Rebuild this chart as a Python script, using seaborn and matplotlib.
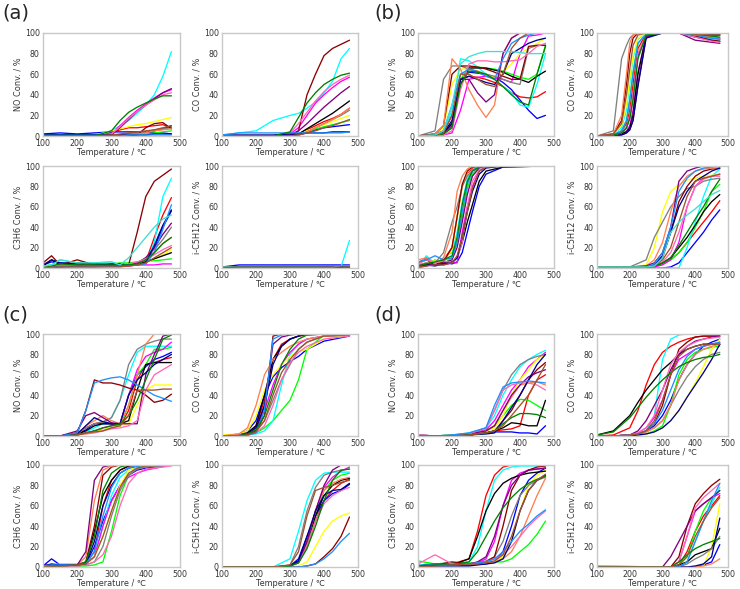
import matplotlib
matplotlib.use("Agg")
import matplotlib.pyplot as plt
import seaborn as sns
import pandas as pd

# ---------------- colours (one per catalyst, in order) ----------------
PALETTE = ["#ff0000", "#0000ff", "#00ff00", "#00ffff", "#ff00ff", "#ffff00",
           "#000000", "#808080", "#8b0000", "#ff7f50", "#800080", "#ff69b4",
           "#00008b", "#1e90ff", "#008000", "#a0522d", "#40e0d0"]

XTICKS = [100, 200, 300, 400, 500]
YTICKS = [0, 20, 40, 60, 80, 100]
XLABEL = "Temperature / \u2103"
YLABELS = ["NO Conv. / %", "CO Conv. / %", "C3H6 Conv. / %", "i-C5H12 Conv. / %"]
PANEL_LABELS = ["(a)", "(b)", "(c)", "(d)"]

# ---------------- panel (a) ----------------
A_T = [100, 150, 200, 250, 300, 325, 350, 375, 400, 425, 450, 475]
A_NO = [
    [2, 1, 0, 0, 3, 6, 8, 8, 9, 10, 11, 8],
    [2, 3, 2, 3, 4, 4, 4, 4, 4, 3, 3, 2],
    [1, 1, 1, 1, 1, 1, 2, 2, 2, 3, 4, 5],
    [1, 1, 1, 1, 5, 10, 15, 22, 30, 40, 58, 82],
    [0, 0, 0, 0, 2, 10, 18, 25, 31, 37, 42, 45],
    [0, 0, 0, 0, 5, 7, 9, 11, 12, 14, 16, 18],
    [0, 0, 0, 0, 1, 1, 2, 3, 4, 5, 7, 10],
    [0, 0, 0, 0, 1, 1, 2, 3, 4, 6, 7, 8],
    [0, 0, 0, 0, 0, 0, 0, 1, 8, 12, 13, 7],
    [0, 0, 0, 0, 0, 1, 1, 2, 3, 5, 6, 7],
    [0, 0, 0, 0, 1, 8, 16, 24, 30, 36, 42, 46],
    [0, 0, 0, 0, 2, 9, 17, 24, 30, 35, 40, 42],
    [1, 1, 1, 1, 1, 1, 1, 1, 1, 2, 2, 2],
    [0, 0, 0, 0, 0, 0, 1, 1, 1, 1, 1, 1],
    [0, 0, 0, 0, 5, 15, 23, 28, 32, 36, 39, 39],
    [0, 0, 0, 0, 1, 2, 3, 4, 5, 6, 8, 10],
]
A_CO = [
    [0, 0, 0, 0, 0, 2, 6, 10, 14, 17, 21, 27],
    [0, 0, 0, 0, 0, 1, 3, 6, 8, 9, 10, 11],
    [0, 0, 0, 0, 0, 2, 4, 7, 9, 11, 13, 15],
    [1, 3, 5, 15, 20, 22, 27, 33, 42, 53, 75, 85],
    [0, 0, 0, 0, 2, 8, 20, 32, 40, 47, 53, 57],
    [0, 0, 0, 0, 0, 2, 5, 8, 11, 14, 17, 20],
    [0, 0, 0, 0, 0, 2, 7, 12, 17, 22, 28, 34],
    [0, 0, 0, 0, 0, 1, 4, 8, 12, 16, 20, 25],
    [0, 0, 0, 0, 0, 5, 40, 60, 78, 85, 89, 93],
    [0, 0, 0, 0, 0, 1, 4, 8, 12, 16, 21, 27],
    [0, 0, 0, 0, 1, 5, 12, 20, 28, 35, 42, 48],
    [0, 0, 0, 0, 3, 12, 23, 34, 43, 50, 55, 59],
    [1, 1, 1, 1, 2, 2, 3, 3, 3, 4, 4, 4],
    [1, 3, 3, 3, 3, 3, 3, 3, 3, 3, 3, 4],
    [0, 0, 0, 0, 4, 18, 32, 42, 50, 55, 59, 61],
    [0, 0, 0, 0, 0, 1, 3, 5, 8, 10, 13, 16],
]
A_C3_T = [100, 125, 150, 200, 250, 300, 325, 350, 375, 400, 425, 450, 475]
A_C3H6 = [
    [1, 2, 1, 3, 2, 2, 2, 2, 3, 6, 30, 52, 69],
    [3, 6, 5, 4, 4, 3, 3, 3, 3, 5, 20, 40, 56],
    [2, 3, 2, 2, 3, 4, 5, 5, 6, 7, 7, 8, 9],
    [2, 3, 8, 5, 5, 6, 3, 3, 3, 5, 25, 70, 88],
    [0, 1, 2, 2, 2, 2, 2, 2, 3, 3, 3, 4, 4],
    [0, 1, 1, 2, 2, 2, 2, 3, 3, 5, 9, 13, 18],
    [2, 8, 3, 5, 3, 4, 4, 3, 4, 6, 9, 12, 15],
    [0, 1, 1, 1, 1, 2, 2, 3, 5, 10, 18, 28, 40],
    [5, 12, 3, 8, 3, 2, 2, 3, 35, 70, 85, 91, 97],
    [0, 2, 3, 4, 3, 2, 2, 3, 4, 8, 15, 24, 30],
    [0, 0, 1, 2, 2, 2, 2, 3, 5, 10, 20, 33, 44],
    [0, 1, 2, 3, 2, 2, 3, 4, 6, 9, 13, 18, 22],
    [3, 8, 5, 4, 4, 3, 3, 3, 3, 5, 22, 42, 57],
    [0, 1, 2, 2, 2, 2, 2, 3, 3, 4, 15, 38, 62],
    [0, 2, 4, 3, 3, 3, 3, 3, 4, 8, 15, 24, 30],
    [0, 1, 1, 1, 1, 1, 1, 2, 3, 5, 10, 15, 20],
    [2, 3, 8, 5, 5, 6, 3, 10, 20, 30, 40, 48, 52],
]
A_IC5 = [
    [0, 0, 0, 0, 0, 0, 0, 0, 0, 0, 1, 1],
    [1, 3, 3, 3, 3, 3, 3, 3, 3, 3, 3, 3],
    [1, 1, 1, 1, 1, 1, 1, 1, 1, 1, 1, 2],
    [1, 1, 1, 1, 1, 1, 1, 1, 1, 1, 1, 27],
    [0, 0, 0, 0, 0, 0, 0, 0, 1, 1, 1, 1],
    [0, 0, 0, 0, 0, 0, 0, 0, 0, 0, 0, 1],
    [0, 1, 1, 1, 1, 1, 1, 1, 1, 1, 1, 1],
    [1, 1, 1, 1, 1, 1, 1, 1, 1, 1, 2, 2],
]

# ---------------- panel (b) ----------------
B_NO_T = [100, 150, 175, 200, 225, 250, 275, 300, 325, 350, 375, 400, 425, 450, 475]
B_NO = [
    [0, 2, 5, 20, 55, 58, 57, 55, 52, 48, 42, 38, 37, 38, 43],
    [0, 1, 3, 12, 55, 62, 61, 60, 57, 52, 45, 35, 25, 17, 20],
    [0, 1, 2, 8, 55, 67, 67, 66, 65, 63, 60, 57, 55, 60, 88],
    [0, 1, 3, 25, 75, 73, 67, 60, 55, 48, 42, 30, 28, 50, 80],
    [0, 0, 1, 3, 25, 55, 57, 58, 56, 55, 52, 80, 97, 98, 100],
    [0, 2, 8, 50, 65, 65, 63, 60, 57, 62, 70, 80, 85, 90, 95],
    [0, 1, 3, 12, 50, 66, 66, 66, 64, 62, 58, 55, 52, 58, 63],
    [0, 5, 55, 68, 68, 65, 63, 60, 58, 55, 52, 50, 85, 88, 88],
    [0, 2, 10, 60, 68, 68, 67, 65, 62, 58, 55, 55, 87, 88, 88],
    [0, 2, 10, 75, 65, 45, 30, 18, 30, 80, 95, 100, 100, 100, 100],
    [0, 0, 2, 10, 55, 55, 42, 33, 40, 80, 95, 100, 100, 100, 100],
    [0, 0, 1, 5, 45, 70, 73, 73, 72, 72, 73, 74, 80, 87, 90],
    [0, 1, 3, 15, 55, 58, 55, 52, 50, 60, 80, 85, 90, 93, 95],
    [0, 1, 5, 30, 60, 65, 62, 58, 55, 75, 90, 95, 98, 100, 100],
    [0, 1, 2, 8, 50, 63, 62, 60, 55, 48, 40, 33, 30, 60, 87],
    [0, 1, 3, 20, 60, 60, 55, 50, 48, 60, 85, 95, 100, 100, 100],
    [0, 1, 5, 30, 70, 77, 80, 82, 82, 82, 82, 81, 80, 80, 80],
]
B_CO_T = [100, 150, 175, 190, 200, 210, 225, 250, 300, 350, 400, 450, 475]
B_CO = [
    [0, 1, 5, 12, 25, 50, 85, 99, 100, 100, 97, 95, 94],
    [0, 1, 3, 8, 18, 38, 78, 98, 100, 100, 96, 93, 92],
    [0, 1, 5, 15, 35, 62, 90, 99, 100, 100, 99, 98, 98],
    [0, 2, 8, 25, 50, 75, 94, 100, 100, 100, 97, 94, 93],
    [0, 0, 2, 5, 10, 25, 62, 97, 100, 100, 98, 96, 95],
    [0, 2, 10, 30, 55, 78, 95, 100, 100, 100, 100, 99, 99],
    [0, 0, 2, 4, 8, 20, 60, 97, 100, 100, 100, 99, 99],
    [0, 5, 75, 88, 95, 98, 100, 100, 100, 100, 99, 98, 98],
    [0, 2, 15, 50, 80, 95, 100, 100, 100, 100, 97, 93, 92],
    [0, 2, 20, 60, 90, 98, 100, 100, 100, 100, 98, 96, 95],
    [0, 0, 1, 3, 6, 15, 50, 96, 100, 100, 93, 91, 90],
    [0, 1, 3, 8, 20, 40, 80, 98, 100, 100, 96, 92, 91],
    [0, 0, 1, 3, 6, 15, 48, 95, 100, 100, 99, 98, 98],
    [0, 1, 5, 15, 35, 60, 90, 99, 100, 100, 98, 95, 94],
    [0, 1, 3, 8, 17, 35, 75, 98, 100, 100, 99, 97, 96],
    [0, 2, 12, 40, 65, 88, 98, 100, 100, 100, 99, 98, 98],
]
B_C3_T = [100, 125, 150, 175, 200, 215, 230, 245, 260, 280, 300, 350, 475]
B_C3H6 = [
    [5, 10, 5, 8, 20, 50, 80, 93, 98, 100, 100, 100, 100],
    [2, 5, 3, 6, 4, 6, 15, 35, 55, 80, 92, 99, 100],
    [3, 2, 8, 4, 10, 25, 50, 78, 92, 99, 100, 100, 100],
    [2, 12, 4, 10, 15, 35, 65, 87, 96, 100, 100, 100, 100],
    [0, 2, 4, 3, 5, 5, 35, 60, 80, 95, 99, 100, 100],
    [3, 5, 7, 5, 18, 50, 80, 94, 99, 100, 100, 100, 100],
    [2, 3, 5, 4, 6, 10, 25, 45, 62, 85, 95, 99, 100],
    [3, 5, 5, 15, 45, 60, 80, 90, 96, 99, 100, 100, 100],
    [5, 8, 3, 6, 20, 50, 82, 95, 99, 100, 100, 100, 100],
    [8, 10, 4, 10, 35, 75, 90, 97, 100, 100, 100, 100, 100],
    [2, 4, 3, 5, 8, 20, 45, 72, 90, 98, 100, 100, 100],
    [4, 8, 5, 7, 5, 10, 25, 60, 85, 96, 99, 100, 100],
    [1, 3, 2, 4, 5, 10, 30, 55, 75, 92, 98, 100, 100],
    [6, 8, 12, 8, 10, 25, 55, 82, 95, 99, 100, 100, 100],
    [2, 4, 6, 8, 12, 30, 62, 85, 95, 99, 100, 100, 100],
    [1, 2, 3, 3, 5, 12, 30, 55, 78, 95, 99, 100, 100],
]
B_IC5_T = [100, 200, 250, 275, 300, 325, 350, 375, 400, 425, 450, 475]
B_IC5 = [
    [1, 1, 1, 2, 4, 8, 15, 25, 35, 45, 55, 66],
    [1, 0, 0, 0, 0, 1, 5, 15, 25, 35, 47, 57],
    [1, 1, 1, 2, 4, 8, 15, 25, 40, 55, 75, 82],
    [1, 0, 0, 0, 0, 0, 0, 20, 45, 70, 90, 97],
    [1, 1, 1, 1, 3, 8, 25, 60, 80, 88, 90, 92],
    [1, 1, 3, 20, 55, 75, 82, 86, 88, 90, 91, 91],
    [1, 1, 1, 2, 5, 10, 20, 30, 42, 55, 65, 72],
    [1, 1, 8, 30, 45, 60, 70, 78, 80, 85, 87, 88],
    [1, 1, 1, 3, 10, 35, 65, 80, 90, 95, 97, 98],
    [1, 1, 2, 8, 25, 55, 80, 90, 95, 97, 98, 98],
    [1, 1, 2, 5, 15, 40, 85, 95, 98, 100, 100, 100],
    [1, 1, 1, 2, 6, 15, 35, 60, 80, 87, 90, 90],
    [1, 1, 1, 3, 12, 35, 60, 75, 85, 90, 95, 98],
    [1, 1, 1, 4, 15, 40, 75, 88, 95, 98, 99, 100],
    [1, 1, 1, 2, 5, 10, 22, 35, 48, 60, 75, 87],
    [1, 1, 1, 2, 8, 20, 45, 70, 85, 88, 90, 92],
    [1, 1, 1, 2, 10, 35, 45, 52, 58, 65, 72, 76],
]

# ---------------- panel (c) ----------------
C_NO_T = [100, 150, 200, 225, 250, 275, 300, 325, 350, 375, 400, 425, 450, 475]
C_NO = [
    [0, 0, 3, 8, 12, 14, 12, 10, 25, 55, 70, 72, 75, 77],
    [0, 0, 2, 6, 12, 12, 12, 12, 40, 60, 68, 75, 78, 82],
    [0, 0, 1, 3, 5, 6, 8, 10, 30, 60, 70, 85, 85, 87],
    [0, 0, 1, 4, 8, 12, 18, 35, 60, 82, 88, 88, 88, 88],
    [0, 0, 1, 3, 5, 8, 10, 12, 40, 65, 78, 82, 85, 92],
    [0, 0, 1, 2, 4, 6, 8, 10, 12, 30, 45, 50, 50, 50],
    [0, 0, 2, 5, 10, 12, 12, 12, 15, 45, 70, 72, 72, 72],
    [0, 0, 3, 8, 12, 14, 18, 35, 70, 85, 90, 93, 95, 95],
    [0, 0, 3, 25, 55, 52, 52, 50, 47, 45, 40, 33, 35, 41],
    [0, 0, 1, 10, 15, 20, 15, 12, 30, 60, 90, 100, 100, 100],
    [0, 0, 5, 20, 23, 18, 13, 12, 12, 12, 60, 80, 98, 100],
    [0, 0, 1, 2, 3, 5, 7, 8, 10, 15, 45, 60, 65, 70],
    [0, 0, 2, 10, 18, 14, 12, 12, 40, 55, 62, 70, 75, 80],
    [0, 0, 3, 25, 52, 55, 57, 58, 55, 50, 45, 40, 37, 34],
    [0, 0, 1, 3, 5, 8, 10, 12, 20, 35, 55, 75, 95, 99],
    [0, 0, 1, 3, 4, 5, 8, 10, 20, 45, 45, 45, 46, 46],
]
C_CO_T = [100, 150, 175, 200, 225, 250, 275, 300, 325, 350, 400, 475]
C_CO = [
    [0, 1, 3, 10, 35, 75, 90, 95, 98, 99, 100, 100],
    [0, 2, 5, 15, 40, 58, 67, 73, 78, 85, 93, 98],
    [0, 0, 1, 3, 8, 15, 25, 35, 55, 85, 99, 100],
    [0, 0, 1, 2, 5, 15, 50, 80, 90, 95, 98, 99],
    [0, 1, 2, 8, 25, 50, 70, 82, 90, 95, 98, 99],
    [1, 2, 5, 20, 45, 60, 70, 78, 83, 85, 95, 99],
    [0, 1, 3, 10, 40, 75, 88, 95, 98, 100, 100, 100],
    [0, 1, 2, 5, 15, 35, 55, 70, 85, 92, 98, 99],
    [0, 0, 1, 4, 20, 98, 100, 100, 100, 100, 100, 100],
    [0, 2, 8, 30, 60, 75, 82, 88, 92, 95, 98, 99],
    [0, 0, 1, 5, 30, 90, 97, 99, 100, 100, 100, 100],
    [0, 0, 1, 3, 10, 30, 55, 72, 82, 88, 95, 98],
    [0, 0, 2, 8, 30, 70, 88, 95, 98, 100, 100, 100],
    [0, 0, 1, 3, 25, 95, 99, 100, 100, 100, 100, 100],
    [0, 0, 2, 6, 20, 45, 70, 85, 95, 99, 100, 100],
    [0, 0, 1, 4, 15, 40, 62, 75, 85, 92, 98, 99],
]
C_C3_T = [100, 125, 150, 200, 225, 250, 275, 300, 325, 350, 375, 400, 475]
C_C3H6 = [
    [2, 1, 2, 2, 3, 15, 60, 85, 95, 99, 100, 100, 100],
    [1, 8, 2, 2, 3, 20, 45, 65, 80, 90, 95, 97, 100],
    [0, 2, 1, 1, 1, 2, 5, 35, 70, 90, 97, 99, 100],
    [1, 2, 3, 3, 4, 10, 40, 70, 88, 95, 98, 99, 100],
    [1, 1, 2, 2, 3, 10, 40, 65, 80, 88, 92, 95, 100],
    [0, 1, 1, 2, 3, 10, 30, 55, 80, 95, 99, 100, 100],
    [1, 2, 1, 2, 4, 35, 70, 85, 95, 99, 100, 100, 100],
    [0, 1, 1, 1, 2, 5, 20, 50, 75, 90, 96, 98, 100],
    [0, 1, 1, 2, 5, 40, 90, 98, 100, 100, 100, 100, 100],
    [1, 2, 1, 2, 10, 65, 95, 99, 100, 100, 100, 100, 100],
    [1, 1, 1, 2, 15, 85, 98, 100, 100, 100, 100, 100, 100],
    [0, 1, 1, 1, 2, 5, 12, 30, 60, 82, 92, 96, 99],
    [1, 3, 2, 2, 3, 25, 60, 80, 92, 97, 99, 100, 100],
    [1, 2, 2, 2, 3, 15, 50, 78, 92, 97, 99, 100, 100],
    [0, 1, 1, 2, 5, 30, 75, 92, 98, 100, 100, 100, 100],
    [0, 1, 1, 2, 3, 10, 30, 55, 78, 92, 97, 99, 100],
]
C_IC5_T = [100, 250, 300, 325, 350, 375, 400, 425, 450, 475]
C_IC5 = [
    [0, 0, 1, 5, 20, 45, 65, 75, 82, 86],
    [0, 0, 1, 8, 30, 50, 65, 72, 75, 81],
    [0, 0, 1, 4, 20, 50, 75, 85, 90, 92],
    [0, 0, 8, 35, 65, 85, 92, 93, 93, 93],
    [0, 0, 1, 5, 25, 55, 78, 88, 94, 98],
    [0, 0, 0, 1, 5, 20, 35, 45, 50, 53],
    [0, 0, 1, 6, 25, 50, 70, 80, 85, 87],
    [0, 0, 2, 20, 55, 78, 90, 93, 95, 96],
    [0, 0, 0, 0, 1, 3, 10, 18, 30, 49],
    [0, 0, 1, 5, 25, 55, 75, 82, 86, 88],
    [0, 0, 1, 5, 25, 55, 80, 95, 100, 100],
    [0, 0, 1, 4, 20, 45, 62, 70, 75, 78],
    [0, 0, 1, 6, 30, 55, 70, 75, 76, 82],
    [0, 0, 0, 0, 1, 3, 8, 15, 25, 33],
    [0, 0, 1, 4, 18, 40, 65, 85, 95, 96],
    [0, 0, 2, 15, 50, 75, 78, 80, 83, 85],
]

# ---------------- panel (d) ----------------
D_NO_T = [100, 150, 200, 250, 300, 325, 350, 375, 400, 425, 450, 475]
D_NO = [
    [1, 0, 0, 1, 3, 5, 6, 7, 10, 40, 55, 60],
    [0, 0, 0, 1, 3, 4, 4, 4, 3, 3, 2, 10],
    [1, 0, 1, 2, 5, 10, 20, 30, 36, 35, 30, 25],
    [1, 0, 1, 3, 8, 20, 40, 55, 68, 75, 80, 84],
    [1, 0, 0, 2, 6, 15, 30, 45, 55, 68, 75, 82],
    [0, 0, 1, 2, 5, 8, 20, 40, 55, 65, 75, 80],
    [0, 0, 0, 1, 3, 5, 8, 13, 12, 10, 10, 35],
    [0, 0, 1, 2, 8, 25, 45, 60, 70, 75, 78, 80],
    [0, 0, 0, 1, 3, 5, 15, 25, 40, 55, 65, 72],
    [0, 0, 0, 1, 5, 10, 25, 38, 50, 52, 53, 50],
    [0, 0, 0, 2, 5, 10, 25, 40, 50, 58, 62, 65],
    [1, 0, 0, 2, 8, 25, 45, 50, 52, 52, 50, 45],
    [0, 0, 0, 1, 2, 3, 15, 28, 40, 55, 70, 80],
    [0, 0, 1, 3, 8, 30, 48, 52, 53, 54, 53, 52],
    [0, 0, 0, 1, 3, 5, 12, 18, 22, 22, 21, 18],
    [0, 0, 0, 1, 3, 5, 10, 20, 30, 40, 55, 70],
]
D_CO_T = [100, 150, 200, 225, 250, 275, 300, 325, 350, 375, 400, 425, 450, 475]
D_CO = [
    [0, 1, 8, 25, 50, 70, 82, 88, 92, 95, 97, 98, 98, 98],
    [0, 0, 1, 2, 5, 10, 20, 35, 55, 70, 80, 88, 92, 95],
    [0, 0, 0, 1, 2, 5, 10, 30, 60, 75, 82, 85, 87, 88],
    [0, 0, 1, 2, 5, 20, 75, 95, 99, 100, 100, 100, 100, 100],
    [0, 0, 1, 3, 8, 18, 35, 60, 75, 80, 85, 88, 90, 92],
    [0, 0, 0, 1, 2, 4, 8, 15, 25, 38, 52, 68, 85, 95],
    [1, 5, 20, 33, 45, 55, 65, 72, 80, 85, 88, 90, 90, 90],
    [0, 0, 1, 2, 4, 8, 15, 30, 45, 58, 68, 75, 80, 82],
    [0, 0, 1, 2, 5, 12, 30, 60, 85, 92, 97, 98, 98, 98],
    [0, 0, 1, 2, 4, 8, 15, 30, 55, 70, 80, 85, 88, 90],
    [0, 0, 1, 5, 15, 30, 45, 65, 80, 88, 93, 95, 97, 98],
    [0, 0, 1, 3, 8, 20, 45, 70, 82, 88, 92, 95, 96, 97],
    [0, 0, 0, 1, 2, 4, 8, 15, 25, 38, 50, 62, 75, 90],
    [0, 0, 1, 2, 5, 12, 25, 45, 65, 78, 85, 88, 90, 92],
    [1, 4, 18, 28, 38, 47, 55, 62, 68, 72, 75, 77, 78, 80],
    [0, 0, 1, 2, 5, 15, 35, 60, 78, 85, 88, 90, 90, 90],
]
D_C3_T = [100, 150, 200, 250, 275, 300, 325, 350, 375, 400, 425, 450, 475]
D_C3H6 = [
    [2, 3, 3, 8, 35, 70, 90, 98, 100, 100, 100, 100, 100],
    [1, 2, 2, 2, 3, 3, 5, 15, 40, 70, 85, 92, 97],
    [6, 3, 4, 4, 4, 4, 5, 5, 8, 15, 22, 32, 45],
    [2, 3, 4, 5, 20, 55, 85, 95, 98, 99, 99, 99, 99],
    [1, 2, 2, 3, 4, 8, 25, 60, 85, 92, 95, 96, 97],
    [1, 2, 2, 3, 3, 4, 5, 10, 25, 55, 80, 90, 95],
    [1, 3, 2, 8, 30, 55, 72, 82, 87, 90, 92, 93, 94],
    [0, 2, 2, 3, 4, 6, 10, 25, 50, 70, 80, 85, 88],
    [0, 2, 5, 3, 4, 5, 10, 40, 75, 90, 95, 98, 99],
    [1, 2, 2, 3, 3, 4, 5, 8, 15, 30, 50, 70, 87],
    [0, 2, 3, 3, 5, 10, 30, 60, 80, 90, 95, 96, 97],
    [3, 12, 3, 3, 4, 5, 8, 12, 20, 30, 40, 48, 55],
    [0, 1, 1, 1, 2, 3, 4, 8, 25, 55, 75, 85, 90],
    [1, 3, 2, 3, 4, 5, 8, 15, 25, 35, 42, 50, 56],
    [1, 2, 2, 5, 15, 30, 45, 58, 68, 76, 82, 86, 89],
    [0, 1, 2, 3, 3, 4, 6, 12, 30, 55, 75, 85, 91],
]
D_IC5_T = [100, 300, 325, 350, 375, 400, 425, 450, 475]
D_IC5 = [
    [0, 0, 0, 2, 15, 35, 50, 60, 70],
    [0, 0, 0, 0, 0, 0, 2, 5, 22],
    [1, 0, 0, 2, 10, 35, 55, 68, 75],
    [1, 0, 0, 0, 5, 25, 45, 62, 78],
    [0, 0, 0, 5, 30, 55, 62, 68, 72],
    [0, 0, 0, 0, 0, 0, 1, 20, 62],
    [0, 0, 0, 2, 5, 12, 15, 18, 38],
    [0, 0, 0, 0, 3, 8, 12, 18, 30],
    [0, 0, 0, 10, 40, 62, 72, 80, 86],
    [0, 0, 0, 0, 0, 0, 1, 3, 8],
    [0, 0, 10, 25, 40, 55, 62, 68, 75],
    [0, 0, 0, 5, 30, 58, 68, 75, 82],
    [0, 0, 0, 0, 0, 1, 3, 10, 48],
    [0, 0, 0, 0, 5, 25, 45, 65, 82],
    [0, 0, 0, 5, 12, 18, 22, 25, 28],
    [0, 0, 0, 2, 10, 30, 45, 58, 68],
]

PANELS = [
    [(A_T, A_NO), (A_T, A_CO), (A_C3_T, A_C3H6), (A_T, A_IC5)],
    [(B_NO_T, B_NO), (B_CO_T, B_CO), (B_C3_T, B_C3H6), (B_IC5_T, B_IC5)],
    [(C_NO_T, C_NO), (C_CO_T, C_CO), (C_C3_T, C_C3H6), (C_IC5_T, C_IC5)],
    [(D_NO_T, D_NO), (D_CO_T, D_CO), (D_C3_T, D_C3H6), (D_IC5_T, D_IC5)],
]

# ---------------- figure ----------------
sns.set_style("white")
plt.rcParams["font.family"] = ["DejaVu Sans"]
W, H = 740, 589
fig = plt.figure(figsize=(W / 100, H / 100), dpi=100)

COL_X = [(43, 137), (222, 136), (418, 136), (597, 131)]   # left px, width px
ROW_Y = [(33, 103), (166, 102), (334, 102), (465, 102)]   # top px, height px


def draw(ax, grid, curves, ylabel):
    rows = []
    for i, c in enumerate(curves):
        for t, v in zip(grid, c):
            rows.append((i, t, v))
    df = pd.DataFrame(rows, columns=["id", "T", "v"])
    sns.lineplot(data=df, x="T", y="v", hue="id",
                 palette=PALETTE[:len(curves)], estimator=None, sort=False,
                 legend=False, ax=ax, linewidth=0.95)
    ax.set_xlim(100, 500)
    ax.set_ylim(0, 100)
    ax.set_xticks(XTICKS)
    ax.set_yticks(YTICKS)
    ax.set_xlabel(XLABEL, fontsize=5.9, color="#333333", labelpad=0)
    ax.set_ylabel(ylabel, fontsize=5.9, color="#333333", labelpad=1.5)
    ax.tick_params(labelsize=5.7, colors="#333333", length=1.5, width=0.6,
                   pad=0.8, direction="out")
    for s in ax.spines.values():
        s.set_color("#c8c8c8")
        s.set_linewidth(1.0)


for p, panel in enumerate(PANELS):
    pr, pc = divmod(p, 2)
    for k, (grid, curves) in enumerate(panel):
        sr, sc = divmod(k, 2)
        lx, wx = COL_X[pc * 2 + sc]
        ty, hy = ROW_Y[pr * 2 + sr]
        ax = fig.add_axes([lx / W, 1 - (ty + hy) / H, wx / W, hy / H])
        draw(ax, grid, curves, YLABELS[k])

LABEL_POS = [(2, 13), (374, 13), (2, 315), (374, 315)]
for lab, (x, y) in zip(PANEL_LABELS, LABEL_POS):
    fig.text(x / W, 1 - y / H, lab, fontsize=14, va="center", ha="left")

fig.savefig("out.png", dpi=100)
